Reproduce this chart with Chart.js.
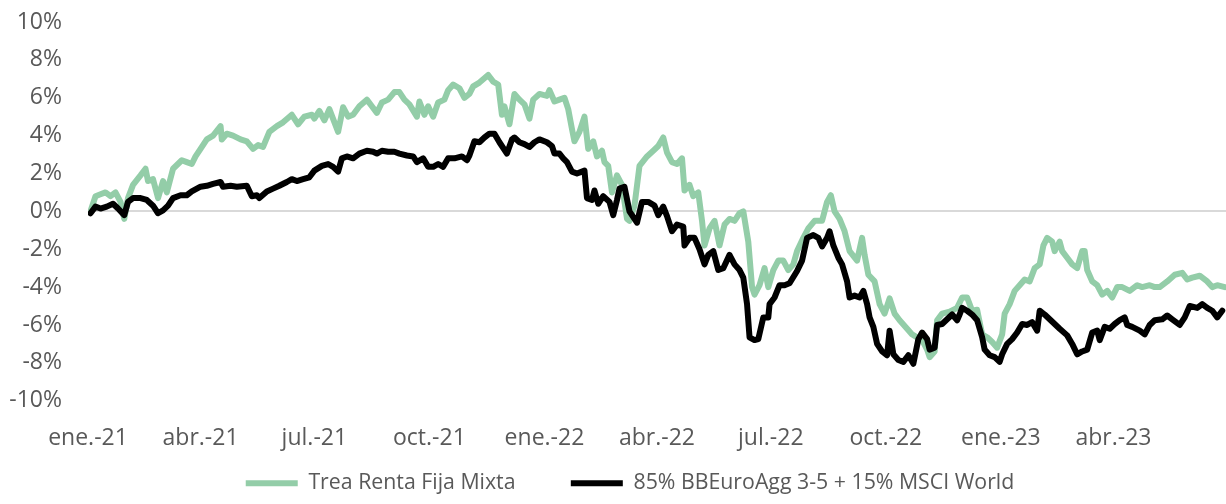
<!DOCTYPE html>
<html>
<head>
<meta charset="utf-8">
<script src="https://cdn.jsdelivr.net/npm/chart.js@4/dist/chart.umd.min.js"></script>
<style>
  html, body { margin: 0; padding: 0; background: #fff; }
  #wrap { width: 1226px; height: 504px; position: relative; }
</style>
</head>
<body>
<div id="wrap"><canvas id="perfChart"></canvas></div>
<script>
// x values are days since 1 Jan 2021
const tickDays = [0, 90, 181, 273, 365, 455, 546, 638, 730, 820];
const tickLabels = ['ene.-21', 'abr.-21', 'jul.-21', 'oct.-21', 'ene.-22', 'abr.-22', 'jul.-22', 'oct.-22', 'ene.-23', 'abr.-23'];

const fundName = 'Trea Renta Fija Mixta';
const benchName = '85% BBEuroAgg 3-5 + 15% MSCI World';

const fundDays = [2, 6, 10, 14, 18, 22, 26, 29, 32, 36, 42, 46, 48, 52, 56, 60, 63, 68, 75, 79, 83, 86, 90, 95, 100, 106, 107, 111, 116, 122, 127, 132, 136, 140, 145, 151, 156, 163, 168, 173, 179, 181, 185, 189, 193, 200, 204, 208, 212, 217, 223, 227, 231, 235, 240, 245, 249, 253, 257, 263, 265, 269, 272, 276, 280, 285, 288, 292, 297, 301, 305, 308, 313, 320, 324, 328, 331, 333, 337, 341, 345, 349, 353, 356, 361, 367, 369, 373, 377, 381, 384, 387, 389, 393, 397, 400, 404, 407, 411, 413, 416, 419, 423, 427, 431, 433, 437, 441, 447, 452, 456, 460, 463, 467, 471, 475, 477, 481, 484, 488, 491, 493, 497, 501, 505, 509, 513, 517, 521, 524, 528, 531, 533, 537, 541, 544, 548, 552, 556, 560, 564, 567, 572, 576, 581, 587, 591, 594, 597, 601, 605, 609, 615, 619, 621, 624, 629, 633, 637, 641, 645, 649, 655, 659, 663, 667, 671, 673, 677, 679, 683, 689, 695, 699, 703, 707, 711, 715, 719, 723, 727, 731, 733, 737, 741, 745, 749, 753, 757, 761, 764, 767, 771, 773, 777, 779, 783, 787, 791, 795, 797, 799, 803, 807, 811, 815, 819, 823, 827, 833, 839, 843, 849, 853, 857, 863, 869, 875, 879, 883, 889, 895, 899, 903, 909];
const fundValues = [0.0, 0.8, 0.9, 1.0, 0.8, 1.0, 0.5, -0.4, 0.7, 1.4, 1.9, 2.25, 1.6, 1.7, 0.7, 1.6, 1.0, 2.25, 2.7, 2.6, 2.5, 2.9, 3.3, 3.8, 4.0, 4.5, 3.8, 4.1, 4.0, 3.8, 3.7, 3.3, 3.5, 3.4, 4.2, 4.5, 4.7, 5.1, 4.6, 5.0, 5.1, 4.9, 5.3, 4.8, 5.4, 4.2, 5.5, 5.0, 5.1, 5.55, 5.9, 5.55, 5.2, 5.75, 5.9, 6.3, 6.3, 5.9, 5.65, 5.0, 5.8, 5.1, 5.55, 5.0, 5.75, 5.9, 6.4, 6.7, 6.5, 6.0, 6.2, 6.6, 6.8, 7.2, 6.85, 6.7, 5.1, 5.55, 4.6, 6.2, 5.9, 5.65, 4.9, 5.9, 6.2, 6.1, 6.4, 5.8, 5.9, 6.0, 5.4, 4.35, 3.7, 4.2, 5.0, 3.3, 3.7, 2.9, 3.2, 2.6, 2.4, 1.0, 1.9, 1.4, -0.4, -0.5, 0.3, 2.4, 2.9, 3.2, 3.45, 3.9, 3.1, 2.6, 2.5, 2.8, 1.1, 1.4, 0.8, 1.0, -0.5, -1.8, -0.9, -0.5, -1.8, -0.7, -0.4, -0.5, -0.1, 0.0, -1.6, -4.0, -4.4, -3.9, -3.0, -4.0, -3.1, -2.6, -2.6, -3.1, -2.8, -2.1, -1.4, -0.9, -0.5, -0.5, 0.5, 0.85, 0.0, -0.4, -1.05, -2.1, -2.6, -1.4, -2.3, -3.35, -3.7, -4.9, -5.4, -4.6, -5.4, -5.75, -6.2, -6.5, -6.65, -6.8, -7.3, -7.7, -7.4, -5.75, -5.4, -5.3, -5.1, -4.55, -4.55, -5.25, -5.2, -6.5, -6.65, -6.9, -7.2, -6.5, -5.4, -4.9, -4.2, -3.9, -3.6, -3.7, -3.0, -2.8, -1.8, -1.4, -1.6, -2.1, -1.6, -2.1, -2.45, -2.8, -3.0, -2.1, -2.1, -3.1, -3.7, -3.9, -4.4, -4.2, -4.55, -4.0, -4.0, -4.2, -3.9, -4.0, -3.9, -4.0, -4.0, -3.7, -3.35, -3.25, -3.6, -3.5, -3.4, -3.7, -4.0, -3.9, -4.0];

const benchDays = [2, 6, 10, 15, 20, 24, 29, 32, 36, 42, 47, 52, 56, 60, 64, 68, 74, 79, 83, 90, 95, 100, 106, 108, 114, 119, 127, 131, 135, 137, 143, 148, 153, 159, 163, 167, 172, 177, 181, 187, 192, 196, 200, 203, 207, 212, 217, 223, 228, 231, 235, 240, 245, 249, 255, 260, 263, 268, 272, 276, 280, 284, 288, 293, 299, 303, 305, 309, 313, 317, 321, 325, 329, 335, 339, 341, 345, 349, 353, 357, 361, 367, 371, 373, 377, 380, 383, 387, 391, 395, 397, 399, 403, 405, 408, 412, 417, 420, 423, 425, 429, 433, 439, 443, 448, 453, 456, 460, 463, 467, 471, 476, 477, 481, 485, 489, 493, 496, 500, 504, 508, 513, 517, 521, 524, 527, 529, 533, 536, 540, 544, 545, 549, 553, 557, 561, 567, 571, 575, 580, 584, 587, 591, 593, 596, 600, 603, 607, 609, 613, 617, 620, 623, 625, 628, 631, 635, 639, 641, 644, 648, 652, 656, 660, 664, 667, 671, 673, 677, 679, 683, 687, 691, 695, 697, 699, 703, 707, 711, 715, 717, 721, 725, 729, 731, 735, 739, 743, 747, 751, 755, 759, 761, 765, 769, 773, 777, 783, 787, 791, 795, 799, 803, 807, 809, 813, 817, 821, 825, 829, 831, 835, 841, 845, 849, 853, 859, 863, 867, 873, 877, 881, 887, 891, 895, 899, 903, 907];
const benchValues = [-0.1, 0.25, 0.15, 0.25, 0.4, 0.15, -0.2, 0.5, 0.7, 0.7, 0.6, 0.3, -0.1, 0.05, 0.3, 0.7, 0.85, 0.85, 1.05, 1.3, 1.35, 1.45, 1.55, 1.3, 1.35, 1.3, 1.35, 0.8, 0.85, 0.7, 1.05, 1.2, 1.35, 1.55, 1.7, 1.6, 1.7, 1.8, 2.15, 2.4, 2.5, 2.35, 2.1, 2.8, 2.9, 2.8, 3.05, 3.2, 3.15, 3.05, 3.2, 3.15, 3.15, 3.05, 2.95, 2.9, 2.6, 2.8, 2.35, 2.35, 2.5, 2.35, 2.8, 2.8, 2.9, 2.7, 2.95, 3.7, 3.65, 3.9, 4.1, 4.1, 3.65, 3.05, 3.8, 3.9, 3.65, 3.55, 3.4, 3.65, 3.8, 3.65, 3.45, 3.05, 3.05, 2.8, 2.6, 2.1, 2.0, 2.1, 2.15, 0.7, 0.6, 1.1, 0.4, 0.8, 0.5, -0.2, 0.6, 1.2, 1.3, 0.0, -0.6, 0.5, 0.5, 0.3, -0.2, 0.25, -0.25, -1.05, -0.7, -0.8, -1.8, -1.4, -1.4, -2.0, -2.8, -2.3, -2.1, -3.1, -3.0, -2.3, -2.8, -3.1, -3.5, -4.9, -6.65, -6.8, -6.75, -5.6, -5.6, -4.9, -4.55, -3.9, -3.9, -3.8, -3.15, -2.6, -1.4, -1.25, -1.4, -1.85, -1.4, -1.05, -1.8, -2.45, -2.8, -3.7, -4.55, -4.45, -4.55, -4.2, -4.9, -5.6, -6.1, -7.0, -7.4, -7.6, -6.3, -7.55, -7.85, -7.95, -7.6, -8.05, -6.75, -6.4, -6.75, -7.3, -7.2, -6.0, -5.95, -5.7, -5.45, -5.75, -5.45, -5.1, -5.25, -5.45, -5.75, -6.65, -7.3, -7.6, -7.7, -7.95, -7.55, -7.0, -6.75, -6.4, -5.95, -6.0, -5.85, -6.3, -5.25, -5.45, -5.7, -5.95, -6.2, -6.55, -7.0, -7.55, -7.4, -7.3, -6.4, -6.3, -6.8, -6.1, -6.2, -5.95, -5.75, -5.6, -6.0, -6.1, -6.3, -6.5, -6.0, -5.75, -5.7, -5.5, -5.7, -6.0, -5.6, -5.0, -5.1, -4.9, -5.1, -5.25, -5.6, -5.25];

const toPoints = (xs, ys) => xs.map((x, i) => ({ x: x, y: ys[i] }));

// nudge the legend a little to the right, like the original
const legendShift = {
    id: 'legendShift',
    afterLayout(chart) {
        if (chart.legend) {
            chart.legend.left += 17;
            chart.legend.right += 17;
        }
    }
};

const ctx = document.getElementById('perfChart').getContext('2d');
new Chart(ctx, {
    type: 'line',
    data: {
        datasets: [
            {
                label: fundName,
                data: toPoints(fundDays, fundValues),
                borderColor: '#93cda8',
                backgroundColor: '#93cda8',
                borderWidth: 6,
                pointRadius: 0,
                borderCapStyle: 'round',
                borderJoinStyle: 'round',
                order: 2
            },
            {
                label: benchName,
                data: toPoints(benchDays, benchValues),
                borderColor: '#000000',
                backgroundColor: '#000000',
                borderWidth: 6,
                pointRadius: 0,
                borderCapStyle: 'round',
                borderJoinStyle: 'round',
                order: 1
            }
        ]
    },
    plugins: [legendShift],
    options: {
        responsive: true,
        maintainAspectRatio: false,
        animation: false,
        layout: { padding: { left: 0, right: 0, top: 0, bottom: 0 } },
        scales: {
            x: {
                type: 'linear',
                min: 0,
                max: 910,
                afterBuildTicks: function (scale) {
                    scale.ticks = tickDays.map(d => ({ value: d }));
                },
                afterFit: function (scale) {
                    scale.paddingLeft = 0;
                    scale.paddingRight = 0;
                    scale.height = 72;
                },
                ticks: {
                    autoSkip: false,
                    maxRotation: 0,
                    padding: 24,
                    color: '#595959',
                    font: { family: 'Open Sans', size: 23 },
                    callback: function (value) {
                        const i = tickDays.indexOf(value);
                        return i >= 0 ? tickLabels[i] : '';
                    }
                },
                grid: { display: false, drawTicks: false },
                border: { display: false }
            },
            y: {
                min: -10,
                max: 10,
                afterFit: function (scale) {
                    scale.width = 88;
                    scale.paddingTop = 22;
                    scale.paddingBottom = 0;
                },
                ticks: {
                    stepSize: 2,
                    padding: 26,
                    color: '#595959',
                    font: { family: 'Open Sans', size: 23 },
                    callback: v => v + '%'
                },
                grid: {
                    drawTicks: false,
                    lineWidth: 2,
                    color: c => c.tick && c.tick.value === 0 ? '#d9d9d9' : 'rgba(0,0,0,0)'
                },
                border: { display: false }
            }
        },
        plugins: {
            legend: {
                position: 'bottom',
                reverse: true,
                labels: {
                    usePointStyle: true,
                    pointStyle: 'line',
                    pointStyleWidth: 52,
                    padding: 0,
                    color: '#595959',
                    font: { family: 'Open Sans', size: 21.3 },
                    generateLabels: function (chart) {
                        const items = Chart.defaults.plugins.legend.labels.generateLabels(chart);
                        items.forEach(it => {
                            if (it.text === fundName) it.text = fundName + '          ';
                        });
                        return items;
                    }
                }
            },
            tooltip: { enabled: false }
        }
    }
});
</script>
</body>
</html>
